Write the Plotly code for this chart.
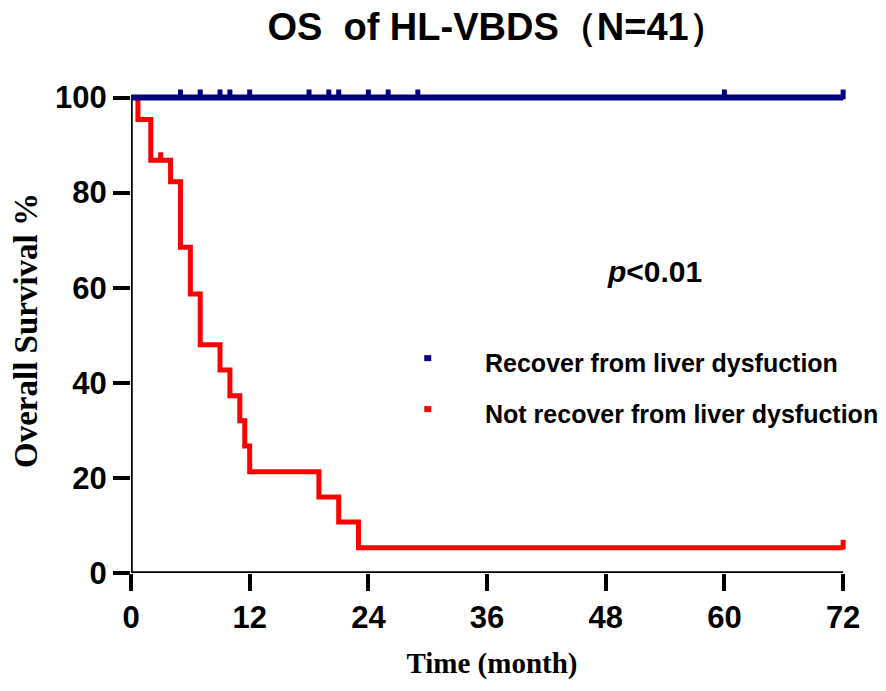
import plotly.graph_objects as go

# Kaplan-Meier steps (months, % surviving)
red_time = [0, 0.7, 2, 4, 5, 6, 7, 9, 10, 11, 11.5, 12, 19, 21, 23, 72]
red_surv = [100, 95.4, 86.8, 82.3, 68.5, 58.7, 48.0, 42.7, 37.3, 32.0, 26.7, 21.3, 16.0, 10.7, 5.3, 5.3]
red_censor = [3, 72]

blue_time = [0, 72]
blue_surv = [100, 100]
blue_censor = [5, 7, 9, 10, 12, 18, 20, 21, 24, 26, 29, 60, 72]

group_names = ["Recover from liver dysfuction", "Not recover from liver dysfuction"]
x_ticks = [0, 12, 24, 36, 48, 60, 72]
y_ticks = [0, 20, 40, 60, 80, 100]

BLUE = "#000080"
RED = "#ff0000"
SANS = "Liberation Sans, Arial, sans-serif"
SERIF = "Liberation Serif, Times New Roman, serif"

Y_RANGE = [0, 102]
TICK_SHIFT = 0.65  # censor ticks sit on top of the curve (about 3px up)


def surv_at(times, surv, t):
    # value of the step function at time t
    val = surv[0]
    for tt, s in zip(times, surv):
        if tt <= t:
            val = s
    return val


fig = go.Figure()

fig.add_trace(go.Scatter(x=red_time, y=red_surv, mode="lines", line=dict(color=RED, width=5, shape="hv"),
                         showlegend=False, hoverinfo="skip"))
fig.add_trace(go.Scatter(x=red_censor, y=[surv_at(red_time, red_surv, t) for t in red_censor], mode="markers",
                         marker=dict(symbol="line-ns", size=7, line=dict(color=RED, width=5)),
                         showlegend=False, cliponaxis=False, yaxis="y2"))
fig.add_trace(go.Scatter(x=blue_time, y=blue_surv, mode="lines", line=dict(color=BLUE, width=6, shape="hv"),
                         showlegend=False, hoverinfo="skip"))
fig.add_trace(go.Scatter(x=blue_censor, y=[surv_at(blue_time, blue_surv, t) for t in blue_censor], mode="markers",
                         marker=dict(symbol="line-ns", size=7, line=dict(color=BLUE, width=5)),
                         showlegend=False, cliponaxis=False, yaxis="y2"))

# axis lines (Prism style, stop at last tick)
fig.add_shape(type="line", x0=0, x1=0, y0=0, y1=100, xref="x", yref="y", line=dict(color="black", width=3.5), layer="below")
fig.add_shape(type="line", x0=0, x1=72, y0=0, y1=0, xref="x", yref="y", line=dict(color="black", width=3.5), layer="below")

# legend: small squares + labels
for name, col, py in zip(group_names, [BLUE, RED], [0.443, 0.338]):
    fig.add_shape(type="rect", xref="paper", yref="paper", xsizemode="pixel", ysizemode="pixel",
                  xanchor=0.411, yanchor=py, x0=-3.5, x1=3.5, y0=-3, y1=3, fillcolor=col, line=dict(width=0))
    fig.add_annotation(x=0.487, y=py - 0.01, xref="paper", yref="paper", text="<b>" + name + "</b>",
                       showarrow=False, xanchor="left", yanchor="middle", font=dict(family=SANS, size=25, color="black"))

fig.add_annotation(x=0.725, y=0.621, xref="paper", yref="paper", text="<b><i>p</i>&lt;0.01</b>",
                   showarrow=False, xanchor="center", yanchor="middle", font=dict(family=SANS, size=30, color="black"))

tick_font = dict(family=SANS, size=31, color="black")
fig.update_layout(
    width=878, height=683,
    paper_bgcolor="white", plot_bgcolor="white",
    margin=dict(l=123, r=33, t=80, b=118),
    title=dict(text="<b>OS  of HL-VBDS（N=41）</b>", x=0.557, xanchor="center", y=0.972, yanchor="middle",
               font=dict(family=SANS, size=38, color="black")),
    xaxis=dict(range=[0, 73], tickvals=x_ticks, ticktext=["<b>%d</b>" % v for v in x_ticks],
               ticks="outside", ticklen=17, tickwidth=3.5, tickcolor="black", showline=False, automargin=False,
               showgrid=False, zeroline=False, tickfont=tick_font,
               title=dict(text="<b>Time (month)</b>", font=dict(family=SERIF, size=29, color="black"), standoff=18)),
    yaxis=dict(range=Y_RANGE, tickvals=y_ticks, ticktext=["<b>%d</b>" % v for v in y_ticks],
               ticks="outside", ticklen=17, tickwidth=3.5, tickcolor="black", showline=False, automargin=False,
               showgrid=False, zeroline=False, tickfont=tick_font,
               title=dict(text="<b>Overall Survival %</b>", font=dict(family=SERIF, size=33, color="black"), standoff=14)),
    yaxis2=dict(overlaying="y", range=[Y_RANGE[0] - TICK_SHIFT, Y_RANGE[1] - TICK_SHIFT], visible=False),
)

fig.write_html("out.html")
